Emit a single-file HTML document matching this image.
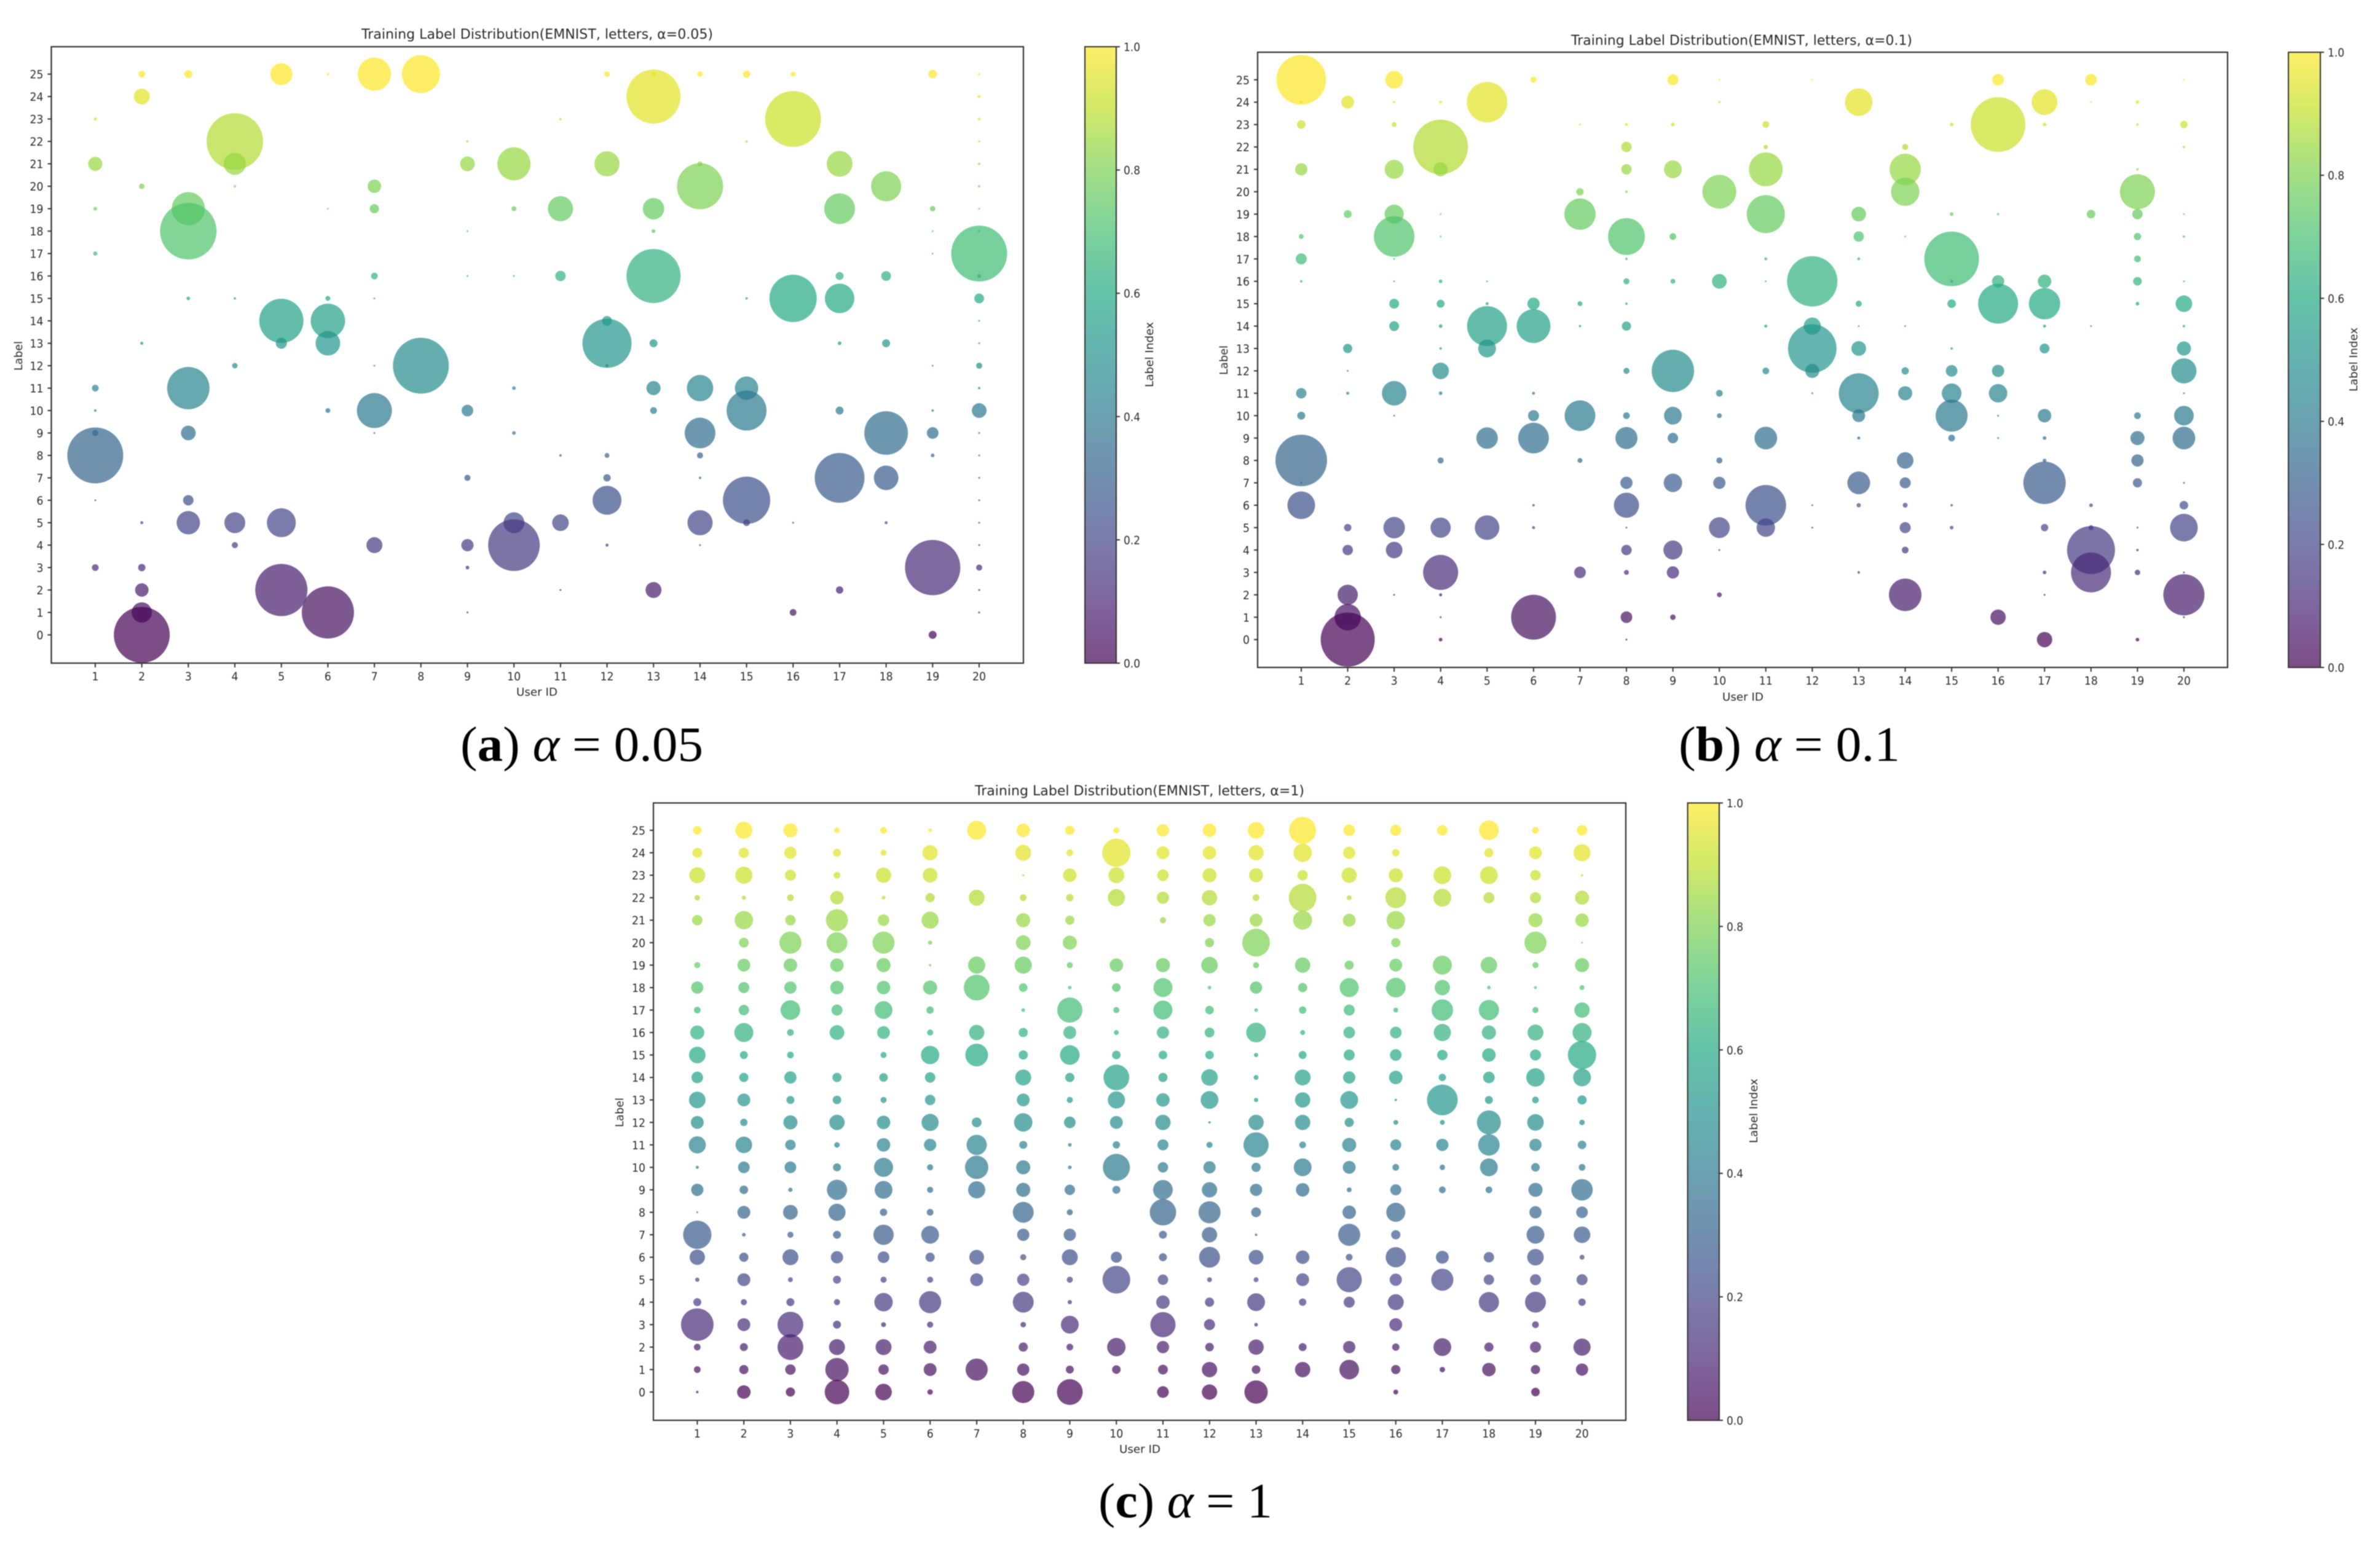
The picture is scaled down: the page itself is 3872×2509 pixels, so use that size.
<!DOCTYPE html>
<html lang="en">
<head>
<meta charset="utf-8">
<title>Training Label Distribution (EMNIST, letters)</title>
<style>
html,body{margin:0;padding:0;background:#fff;width:3872px;height:2509px;overflow:hidden}
svg{display:block;filter:blur(0.7px)}
.t{font-family:"DejaVu Sans","Liberation Sans",sans-serif;fill:#2a2a2a}
.cap{font-family:"Liberation Serif",serif;font-size:80px;fill:#000}
</style>
</head>
<body>
<svg id="figure" xmlns="http://www.w3.org/2000/svg" width="3872" height="2509" viewBox="0 0 3872 2509">
  <defs>
    <linearGradient id="viridis-grad" x1="0" y1="1" x2="0" y2="0"></linearGradient>
  </defs>
  <rect x="0" y="0" width="3872" height="2509" fill="#fff"/>

  <g id="panel-a"></g>
  <g id="panel-b"></g>
  <g id="panel-c"></g>

  <text class="t" x="588" y="63" font-size="22" textLength="572" lengthAdjust="spacingAndGlyphs">Training Label Distribution(EMNIST, letters, α=0.05)</text>
  <text class="t" x="840" y="1132" font-size="18" textLength="67" lengthAdjust="spacingAndGlyphs">User ID</text>
  <text class="t" transform="translate(36 603) rotate(-90)" font-size="18" textLength="48" lengthAdjust="spacingAndGlyphs">Label</text>
  <text class="t" transform="translate(1876 630) rotate(-90)" font-size="18" textLength="106" lengthAdjust="spacingAndGlyphs">Label Index</text>
  <text class="cap" x="749" y="1238" textLength="395" lengthAdjust="spacingAndGlyphs">(<tspan font-weight="bold">a</tspan>) <tspan font-style="italic">α</tspan> = 0.05</text>

  <text class="t" x="2556" y="73" font-size="22" textLength="555" lengthAdjust="spacingAndGlyphs">Training Label Distribution(EMNIST, letters, α=0.1)</text>
  <text class="t" x="2802" y="1140" font-size="18" textLength="67" lengthAdjust="spacingAndGlyphs">User ID</text>
  <text class="t" transform="translate(1997 610) rotate(-90)" font-size="18" textLength="48" lengthAdjust="spacingAndGlyphs">Label</text>
  <text class="t" transform="translate(3835 637) rotate(-90)" font-size="18" textLength="104" lengthAdjust="spacingAndGlyphs">Label Index</text>
  <text class="cap" x="2731" y="1238" textLength="360" lengthAdjust="spacingAndGlyphs">(<tspan font-weight="bold">b</tspan>) <tspan font-style="italic">α</tspan> = 0.1</text>

  <text class="t" x="1586" y="1294" font-size="22" textLength="536" lengthAdjust="spacingAndGlyphs">Training Label Distribution(EMNIST, letters, α=1)</text>
  <text class="t" x="1821" y="2364" font-size="18" textLength="67" lengthAdjust="spacingAndGlyphs">User ID</text>
  <text class="t" transform="translate(1014 1834) rotate(-90)" font-size="18" textLength="48" lengthAdjust="spacingAndGlyphs">Label</text>
  <text class="t" transform="translate(2859 1860) rotate(-90)" font-size="18" textLength="105" lengthAdjust="spacingAndGlyphs">Label Index</text>
  <text class="cap" x="1787" y="2469" textLength="283" lengthAdjust="spacingAndGlyphs">(<tspan font-weight="bold">c</tspan>) <tspan font-style="italic">α</tspan> = 1</text>
</svg>

<script>
// Shared axis categories and tick labels
var userIds = [1,2,3,4,5,6,7,8,9,10,11,12,13,14,15,16,17,18,19,20];
var labelIds = [25,24,23,22,21,20,19,18,17,16,15,14,13,12,11,10,9,8,7,6,5,4,3,2,1,0];
var colorbarTicks = [0.0,0.2,0.4,0.6,0.8,1.0];

// Samples per (label, user): one row per label (25 down to 0), one column per user (1..20)
var countsA = [
[0,121,169,0,1296,16,2916,3844,0,0,0,81,64,81,144,64,0,0,196,16],
[0,676,0,0,0,0,0,0,0,0,0,0,7744,0,0,0,0,0,0,25],
[25,0,0,0,0,0,0,0,0,0,16,0,0,0,0,8281,0,0,0,16],
[0,0,0,8464,0,0,0,0,16,0,0,0,0,0,16,0,0,0,0,12],
[529,0,0,1296,0,0,0,0,576,2916,0,1681,0,64,0,0,1764,0,0,16],
[0,81,0,16,0,0,484,0,0,0,0,0,0,5625,0,0,0,2401,0,16],
[36,0,2916,0,0,9,225,0,0,64,1681,0,1225,0,0,0,2500,0,81,9],
[0,0,8464,0,0,0,0,0,9,0,0,0,36,0,0,0,0,0,9,16],
[49,0,0,0,0,0,0,0,0,0,0,0,0,0,0,0,0,0,9,8281],
[0,0,0,0,0,0,121,0,9,9,289,0,7744,0,0,0,169,256,0,36],
[0,0,36,16,0,64,9,0,0,0,0,0,0,0,16,5929,2304,0,0,256],
[0,0,0,0,5184,3136,0,0,0,0,0,256,0,0,0,0,0,0,0,9],
[0,25,0,0,324,1600,0,0,0,0,0,6400,169,0,0,0,36,169,0,9],
[0,0,0,81,0,0,9,8281,0,0,0,25,0,0,0,0,0,0,9,100],
[121,0,4761,0,0,0,0,0,0,36,0,0,529,1849,1444,0,0,0,0,16],
[16,0,0,0,0,64,3249,0,361,0,0,0,121,0,4225,0,169,0,16,576],
[100,0,576,0,0,0,9,0,0,36,0,0,0,2500,0,0,0,5041,361,9],
[8281,0,0,0,0,0,0,0,0,0,16,64,0,100,0,0,0,0,36,9],
[0,0,0,0,0,0,0,0,100,0,0,144,0,16,0,0,6561,1600,0,9],
[9,0,289,0,0,0,0,0,0,0,0,2209,0,0,5929,0,0,0,0,9],
[0,25,1444,1156,2209,0,0,0,0,1156,729,0,0,1681,121,9,0,25,0,9],
[0,0,0,100,0,0,676,0,400,7056,0,25,0,9,0,0,0,0,0,9],
[121,144,0,0,0,0,0,0,36,0,0,0,0,0,0,0,0,0,8100,100],
[0,484,0,0,7225,0,0,0,0,0,9,0,676,0,0,0,144,0,0,9],
[0,1089,0,0,0,7225,0,0,9,0,0,0,0,0,0,121,0,0,0,9],
[0,8281,0,0,0,0,0,0,0,0,0,0,0,0,0,0,0,0,169,0]
];

var countsB = [
[6561,0,841,0,0,100,0,0,324,9,0,9,0,0,0,361,0,361,0,9],
[25,441,16,25,4356,0,0,0,0,16,0,0,2025,0,0,0,1764,9,36,0],
[196,0,64,0,0,0,9,25,36,0,121,0,0,0,36,7921,36,0,16,144],
[0,0,0,7921,0,0,0,289,0,0,49,0,0,100,0,0,0,0,0,16],
[400,0,961,529,0,0,0,289,841,0,3025,0,0,2601,0,0,0,0,16,0],
[0,0,0,0,0,0,144,16,0,3025,0,0,0,2116,0,0,0,0,3249,0],
[0,169,961,9,0,0,2601,0,0,0,3844,0,576,0,36,16,0,196,289,9],
[64,0,4356,9,0,0,0,3600,121,0,0,0,289,9,0,0,0,0,144,16],
[324,0,9,0,0,0,0,16,0,0,25,0,25,0,7921,0,0,0,121,0],
[16,0,9,36,9,0,0,100,64,576,9,6724,0,0,25,400,484,0,196,9],
[0,0,256,169,25,400,64,16,0,0,0,0,100,0,196,4225,2601,0,36,729],
[0,0,256,36,4225,3025,16,225,0,0,25,784,9,9,0,0,25,9,0,16],
[0,225,0,16,841,0,0,0,0,0,0,6241,576,0,16,0,256,0,0,529],
[0,9,0,729,0,0,0,100,4761,0,121,529,0,144,361,400,0,0,0,1681],
[289,25,1600,36,0,25,0,0,0,121,0,9,4225,529,1024,900,0,0,0,9],
[169,0,9,0,0,324,2500,121,841,64,0,0,441,0,2704,9,484,0,121,1024],
[0,0,0,0,1225,2500,0,1296,289,0,1369,0,25,0,121,9,36,0,529,1369],
[7056,0,0,100,0,0,64,0,0,100,0,0,0,729,0,0,36,0,400,0],
[9,0,0,0,0,0,0,400,900,400,0,0,1369,324,0,0,4761,0,225,9],
[2025,0,0,0,0,16,0,1681,0,0,4356,9,49,64,16,0,0,36,0,196],
[0,144,1225,1089,1600,25,0,9,0,1156,900,9,0,324,36,0,144,64,9,2025],
[0,289,729,0,0,0,0,289,961,9,0,0,0,121,0,0,0,6084,16,0],
[0,0,0,3249,0,0,361,64,400,0,0,0,16,0,0,0,36,4225,81,9],
[0,1089,9,25,0,0,0,0,0,64,0,0,0,2809,0,0,9,0,0,4489],
[0,1849,0,9,0,5329,0,361,81,0,0,0,0,0,0,625,0,0,0,9],
[0,7744,0,36,0,0,0,9,0,0,0,0,0,0,0,0,625,0,36,0]
];

var countsC = [
[196,784,529,81,121,36,961,484,225,100,400,484,729,1936,361,324,289,1024,121,289],
[256,289,400,169,100,625,0,676,121,2116,441,484,625,900,400,144,0,225,441,784],
[676,784,324,121,625,576,0,16,484,676,361,529,529,289,625,529,841,841,289,16],
[81,49,121,484,36,225,676,121,144,784,400,625,121,2025,64,1156,841,324,324,529],
[289,900,289,1296,361,784,0,529,225,0,100,400,441,961,441,900,0,0,529,484],
[0,256,1296,1156,1296,49,0,576,529,0,0,225,2025,0,0,225,0,0,1296,9],
[100,441,484,484,529,16,784,784,100,484,529,729,100,625,225,441,961,729,100,529],
[400,324,400,484,484,529,1764,196,36,196,961,36,400,225,961,1024,625,36,25,64],
[121,289,1024,324,841,144,0,36,1681,100,961,196,36,144,324,64,1225,1089,100,625],
[529,961,121,576,441,100,625,225,441,64,400,256,1024,64,361,361,784,529,676,961],
[729,169,121,0,100,900,1369,225,1024,196,196,196,49,169,324,361,289,484,324,2116],
[361,225,400,225,196,289,0,676,225,1764,225,729,64,676,400,484,144,361,900,841],
[729,441,169,196,100,289,0,441,100,784,484,841,49,625,841,16,2500,169,121,225],
[441,144,529,625,484,784,256,900,361,441,625,16,625,625,225,64,64,1521,729,81],
[784,729,289,81,484,400,1089,169,36,144,324,100,1681,121,529,324,400,1225,400,196],
[25,361,361,169,961,100,1444,529,36,1936,289,400,225,841,441,121,81,841,196,121],
[400,196,49,1089,841,100,784,529,289,169,1024,625,400,484,64,324,121,121,529,1225],
[9,441,576,784,144,121,0,1156,100,0,1849,1296,256,0,484,961,0,0,400,361],
[2116,36,100,169,1089,841,0,400,400,0,169,625,16,0,1296,225,0,0,841,729],
[625,225,676,400,361,225,576,100,676,324,169,1156,576,484,121,1089,441,289,729,64],
[49,441,64,169,100,100,441,400,100,2025,289,64,64,441,1681,400,1296,289,324,324],
[169,100,169,100,900,1296,0,1156,49,0,484,225,841,144,324,676,0,1089,1156,144],
[2809,441,1764,169,64,100,0,81,841,0,1681,324,36,0,0,441,0,0,121,0],
[121,169,1764,676,676,441,0,225,121,900,400,196,625,169,400,144,841,225,324,784],
[121,225,289,1444,289,441,1296,400,169,196,256,625,196,625,1024,225,81,484,225,400],
[16,484,225,1600,729,81,0,1296,1764,0,361,625,1444,0,0,64,0,0,196,0]
];

(function () {
  var NS = 'http://www.w3.org/2000/svg';
  var INK = '#333333';
  var VIRIDIS = ['#440154','#482475','#414487','#355f8d','#2a788e','#21918c','#22a884','#44bf70','#7ad151','#bddf26','#fde725'];

  function hexToRgb(h) {
    return [parseInt(h.substr(1, 2), 16), parseInt(h.substr(3, 2), 16), parseInt(h.substr(5, 2), 16)];
  }
  function viridis(t) {
    var p = Math.max(0, Math.min(1, t)) * (VIRIDIS.length - 1);
    var i = Math.min(Math.floor(p), VIRIDIS.length - 2);
    var f = p - i;
    var a = hexToRgb(VIRIDIS[i]);
    var b = hexToRgb(VIRIDIS[i + 1]);
    return 'rgb(' + Math.round(a[0] + (b[0] - a[0]) * f) + ',' +
      Math.round(a[1] + (b[1] - a[1]) * f) + ',' +
      Math.round(a[2] + (b[2] - a[2]) * f) + ')';
  }
  function make(tag, attrs, parent) {
    var el = document.createElementNS(NS, tag);
    for (var k in attrs) { el.setAttribute(k, attrs[k]); }
    parent.appendChild(el);
    return el;
  }
  function sizeScale(count) { return Math.sqrt(count) / 2; }

  var grad = document.getElementById('viridis-grad');
  VIRIDIS.forEach(function (c, i) {
    make('stop', { offset: (i / (VIRIDIS.length - 1)), 'stop-color': c, 'stop-opacity': 0.7 }, grad);
  });

  function drawPanel(id, box, counts) {
    var root = document.getElementById(id);
    var xScale = function (u) { return box.tickX1 + (u - 1) * (box.tickX20 - box.tickX1) / 19; };
    var yScale = function (l) { return box.tickY0 + l * (box.tickY25 - box.tickY0) / 25; };
    var cScale = function (v) { return box.bottom + v * (box.top - box.bottom); };

    // bubbles
    var bubbles = make('g', {}, root);
    
    
    counts.forEach(function (row, r) {
      row.forEach(function (count, c) {
        if (!count) { return; }
        var label = labelIds[r];
        var user = userIds[c];
        var dot = make('circle', {
          cx: xScale(user), cy: yScale(label), r: sizeScale(count),
          fill: viridis(label / 25), 'fill-opacity': 0.7
        }, bubbles);
        
        
      });
    });

    // axes frame
    var frame = make('rect', {
      x: box.left, y: box.top, width: box.right - box.left, height: box.bottom - box.top,
      fill: 'none', stroke: INK, 'stroke-width': 2.2
    }, root);
    
    

    // x ticks
    userIds.forEach(function (u) {
      var x = xScale(u);
      var tick = make('line', { x1: x, x2: x, y1: box.bottom, y2: box.bottom + 7, stroke: INK, 'stroke-width': 2 }, root);
      
      
      var txt = String(u);
      var t = make('text', {
        class: 't', x: x, y: box.bottom + 28, 'font-size': 19, 'text-anchor': 'middle',
        textLength: txt.length * 11, lengthAdjust: 'spacingAndGlyphs'
      }, root);
      
      
      t.textContent = txt;
    });

    // y ticks
    labelIds.forEach(function (l) {
      var y = yScale(l);
      var tick = make('line', { x1: box.left - 6, x2: box.left, y1: y, y2: y, stroke: INK, 'stroke-width': 2 }, root);
      
      
      var txt = String(l);
      var t = make('text', {
        class: 't', x: box.left - 13, y: y + 7, 'font-size': 19, 'text-anchor': 'end',
        textLength: txt.length * 11, lengthAdjust: 'spacingAndGlyphs'
      }, root);
      
      
      t.textContent = txt;
    });

    // colorbar
    var bar = make('rect', {
      x: box.cbLeft, y: box.top, width: box.cbRight - box.cbLeft, height: box.bottom - box.top,
      fill: 'url(#viridis-grad)', stroke: INK, 'stroke-width': 2
    }, root);
    
    
    colorbarTicks.forEach(function (v) {
      var y = cScale(v);
      var tick = make('line', { x1: box.cbRight, x2: box.cbRight + 6, y1: y, y2: y, stroke: INK, 'stroke-width': 2 }, root);
      
      
      var t = make('text', {
        class: 't', x: box.cbRight + 12, y: y + 7, 'font-size': 19,
        textLength: 27, lengthAdjust: 'spacingAndGlyphs'
      }, root);
      
      
      t.textContent = v.toFixed(1);
    });
  }

  drawPanel('panel-a', { left: 83.5, right: 1665, top: 76, bottom: 1079, tickX1: 155, tickX20: 1593, tickY0: 1033, tickY25: 120.6, cbLeft: 1765, cbRight: 1816 }, countsA);
  drawPanel('panel-b', { left: 2046, right: 3624, top: 85, bottom: 1086, tickX1: 2117, tickX20: 3553, tickY0: 1040.7, tickY25: 129.8, cbLeft: 3723, cbRight: 3775 }, countsB);
  drawPanel('panel-c', { left: 1063, right: 2645, top: 1306.5, bottom: 2311, tickX1: 1134.4, tickX20: 2573.8, tickY0: 2265, tickY25: 1351, cbLeft: 2745.6, cbRight: 2797 }, countsC);
})();
</script>
</body>
</html>
